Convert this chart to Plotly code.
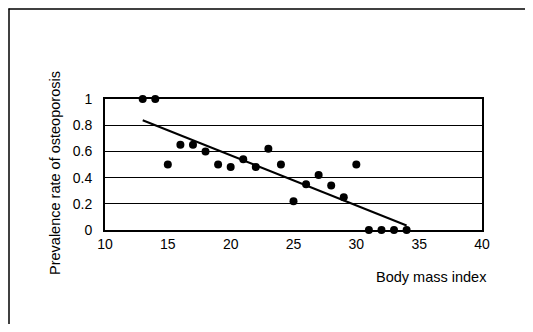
import numpy as np
import plotly.graph_objects as go

bmi = [13, 14, 15, 16, 17, 18, 19, 20, 21, 22, 23, 24, 25, 26, 27, 28, 29, 30, 31, 32, 33, 34]
prevalence = [1.0, 1.0, 0.5, 0.65, 0.65, 0.6, 0.5, 0.48, 0.54, 0.48, 0.62, 0.5,
              0.22, 0.35, 0.42, 0.34, 0.25, 0.5, 0.0, 0.0, 0.0, 0.0]
x_ticks = [10, 15, 20, 25, 30, 35, 40]
y_ticks = [0, 0.2, 0.4, 0.6, 0.8, 1]
y_tick_labels = ["0", "0.2", "0.4", "0.6", "0.8", "1"]

slope, intercept = np.polyfit(bmi, prevalence, 1)
fit_x = [min(bmi), max(bmi)]
fit_y = [slope * v + intercept for v in fit_x]

OFF = 8  # page body margin
W, H = 533 - 2 * OFF, 332 - 2 * OFF
pw, ph = 377, 131
L, T = 105 - OFF, 99 - OFF
R, B = W - L - pw, H - T - ph

def px(xs):
    return (xs - OFF - L) / pw

def py(ys):
    return (T + ph - (ys - OFF)) / ph

fam = "Liberation Sans, Arial, sans-serif"
tickfont = dict(family=fam, size=14, color="black")
titlefont = dict(family=fam, size=14.5, color="black")

fig = go.Figure()
fig.add_trace(go.Scatter(x=fit_x, y=fit_y, mode="lines",
                         line=dict(color="black", width=2), showlegend=False))
fig.add_trace(go.Scatter(x=bmi, y=prevalence, mode="markers",
                         marker=dict(color="black", size=8), showlegend=False,
                         cliponaxis=False))

fig.update_layout(
    width=W, height=H,
    margin=dict(l=L, r=R, t=T, b=B),
    paper_bgcolor="white", plot_bgcolor="white",
    font=tickfont,
    xaxis=dict(range=[10, 40], tickvals=x_ticks, ticktext=[str(v) for v in x_ticks],
               showgrid=False, zeroline=False, showline=True, linecolor="black",
               linewidth=2, mirror=True, ticks="", tickfont=tickfont),
    yaxis=dict(range=[0, 1], tickvals=y_ticks, ticktext=y_tick_labels,
               showgrid=True, gridcolor="black", gridwidth=1, zeroline=False,
               showline=True, linecolor="black", linewidth=2, mirror=True,
               ticks="", tickfont=tickfont, ticklabelstandoff=8),
    annotations=[
        dict(text="Prevalence rate of osteoporosis", textangle=-90,
             xref="paper", yref="paper", x=px(55), y=py(173),
             xanchor="center", yanchor="middle", showarrow=False,
             font=titlefont),
        dict(text="Body mass index", xref="paper", yref="paper",
             x=px(489), y=py(277), xanchor="right", yanchor="middle",
             showarrow=False, font=titlefont),
    ],
    shapes=[
        dict(type="line", xref="paper", yref="paper", x0=px(8.5), x1=px(525),
             y0=py(9), y1=py(9), line=dict(color="black", width=1.5)),
        dict(type="line", xref="paper", yref="paper", x0=px(9), x1=px(9),
             y0=py(8.5), y1=py(324), line=dict(color="black", width=1.5)),
    ],
)

fig.write_html("out.html", config={"displayModeBar": False})
